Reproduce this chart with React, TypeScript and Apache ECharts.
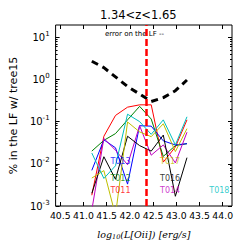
import React, { useEffect, useRef } from "react";
import * as echarts from "echarts";

const xBins = [41.18, 41.44, 41.69, 41.95, 42.21, 42.46, 42.72, 42.98, 43.23];
const errLF = [2.7, 1.9, 1.15, 0.68, 0.45, 0.3, 0.37, 0.54, 0.97];
const t011 = [0.0018, 0.045, 0.14, 0.22, 0.25, 0.25, 0.011, 0.025, 0.11];
const t012 = [0.02, 0.036, 0.052, 0.11, 0.23, 0.115, 0.015, 0.027, 0.03];
const t013 = [0.007, 0.037, 0.024, 0.0033, 0.08, 0.078, 0.035, 0.028, 0.03];
const t014 = [0.0008, 0.04, 0.021, 0.0095, 0.08, 0.016, 0.028, 0.0105, 0.056];
const t016 = [0.002, 0.0147, 0.0043, 0.045, 0.027, 0.02, 0.048, 0.0017, 0.014];
const t017 = [0.0046, 0.0069, 0.0006, 0.098, 0.057, 0.044, 0.089, 0.0195, 0.068];
const t018 = [0.018, 0.0045, 0.009, 0.15, 0.1, 0.05, 0.11, 0.028, 0.13];

const seriesNames = ["T011", "T012", "T013", "T014", "T016", "T017", "T018"];
const seriesColors = ["#ff0000", "#008000", "#0000ff", "#bf00bf", "#000000", "#bfbf00", "#00bfbf"];
const seriesValues = [t011, t012, t013, t014, t016, t017, t018];
const labelX = [41.58, 41.58, 41.58, 42.65, 42.65, 42.65, 43.71];
const labelY = [0.0023, 0.0046, 0.0115, 0.0023, 0.0046, 0.0115, 0.0023];

const zCut = 42.35;
const xTicks = [40.5, 41.0, 41.5, 42.0, 42.5, 43.0, 43.5, 44.0];
const yTicks = [0.001, 0.01, 0.1, 1, 10];
const yMinor: number[] = [];
for (let e = -3; e <= 1; e++) {
  for (let m = 2; m <= 9; m++) {
    const v = m * Math.pow(10, e);
    if (v < 19.5) yMinor.push(Number(v.toPrecision(3)));
  }
}

const xMin = 40.4;
const xMax = 44.2;
const yMin = 0.001;
const yMax = 19.5;

export default function App() {
  const ref = useRef<HTMLDivElement>(null);
  useEffect(() => {
    if (!ref.current) return;
    const chart = echarts.init(ref.current, null, { renderer: "svg" });
    const sans = "DejaVu Sans";
    const baseX = {
      type: "value",
      min: xMin,
      max: xMax,
      axisLine: { show: false },
      splitLine: { show: false },
      axisTick: { show: true, inside: true, length: 4, customValues: xTicks, lineStyle: { color: "#000" } },
    };
    const baseY = {
      type: "log",
      logBase: 10,
      min: yMin,
      max: yMax,
      axisLine: { show: false },
      splitLine: { show: false },
    };
    const option: any = {
      animation: false,
      backgroundColor: "#ffffff",
      title: {
        text: "1.34<z<1.65",
        left: 100,
        top: 9,
        padding: 0,
        textStyle: { fontFamily: sans, fontSize: 11.5, fontWeight: "normal", color: "#000" },
      },
      grid: {
        left: 48.5,
        right: 13,
        top: 25,
        bottom: 36.7,
        show: true,
        borderColor: "#000",
        borderWidth: 1,
        backgroundColor: "transparent",
      },
      xAxis: [
        {
          ...baseX,
          position: "bottom",
          axisLabel: {
            show: true,
            customValues: xTicks,
            formatter: (v: number) => v.toFixed(1),
            fontFamily: sans,
            fontSize: 9.3,
            color: "#000",
            margin: 5,
          },
          name: "{i|log}{s|10}{i|(L[Oii])} {i|[erg/s]}",
          nameLocation: "middle",
          nameGap: 22,
          nameTextStyle: {
            rich: {
              i: { fontFamily: "DejaVu Serif", fontStyle: "italic", fontSize: 9.5, color: "#000" },
              s: { fontFamily: "DejaVu Serif", fontStyle: "italic", fontSize: 6.5, color: "#000", padding: [5, 0, 0, 0] },
            },
          },
        },
        { ...baseX, position: "top", axisLabel: { show: false } },
      ],
      yAxis: [
        {
          ...baseY,
          position: "left",
          axisTick: { show: true, inside: true, length: 4, customValues: yTicks, lineStyle: { color: "#000" } },
          axisLabel: {
            show: true,
            customValues: yTicks,
            margin: 6,
            formatter: (v: number) => {
              const e = Math.round(Math.log10(v));
              return "{b|10}{s|" + String(e) + "}";
            },
            rich: {
              b: { fontFamily: sans, fontSize: 10, color: "#000" },
              s: { fontFamily: sans, fontSize: 7, color: "#000", padding: [0, 0, 7, 0] },
            },
          },
          name: "% in the LF w/ tree15",
          nameLocation: "middle",
          nameGap: 31,
          nameTextStyle: { fontFamily: sans, fontSize: 11, color: "#000" },
        },
        {
          ...baseY,
          position: "right",
          axisTick: { show: true, inside: true, length: 4, customValues: yTicks, lineStyle: { color: "#000" } },
          axisLabel: { show: false },
        },
        {
          ...baseY,
          position: "left",
          axisTick: { show: true, inside: true, length: 2, customValues: yMinor, lineStyle: { color: "#000" } },
          axisLabel: { show: false },
        },
        {
          ...baseY,
          position: "right",
          axisTick: { show: true, inside: true, length: 2, customValues: yMinor, lineStyle: { color: "#000" } },
          axisLabel: { show: false },
        },
      ],
      graphic: [
        {
          type: "text",
          left: 105,
          top: 30,
          style: { text: "error on the LF --", font: "7px 'DejaVu Sans'", fill: "#000" },
        },
      ],
      series: [
        ...seriesValues.map((vals, i) => ({
          type: "line",
          name: seriesNames[i],
          data: xBins.map((x, j) => [x, vals[j]]),
          showSymbol: false,
          symbol: "none",
          clip: true,
          lineStyle: { color: seriesColors[i], width: 1 },
          z: 3,
        })),
        {
          type: "line",
          name: "error on the LF",
          data: xBins.map((x, j) => [x, errLF[j]]),
          symbol: "none",
          clip: true,
          lineStyle: { color: "#000", width: 3, type: [7, 5] },
          z: 4,
        },
        {
          type: "line",
          name: "cut",
          data: [],
          symbol: "none",
          markLine: {
            silent: true,
            symbol: "none",
            label: { show: false },
            lineStyle: { color: "#ff0000", width: 2.5, type: [7, 3] },
            data: [{ xAxis: zCut }],
          },
          z: 5,
        },
        {
          type: "scatter",
          name: "labels",
          symbolSize: 0,
          data: seriesNames.map((n, i) => ({
            value: [labelX[i], labelY[i]],
            label: {
              show: true,
              formatter: n,
              position: "right",
              distance: 0,
              color: seriesColors[i],
              fontFamily: sans,
              fontSize: 8,
            },
          })),
          z: 6,
        },
      ],
    };
    chart.setOption(option);
    return () => chart.dispose();
  }, []);
  return (
    <div
      ref={ref}
      style={{ position: "fixed", left: 0, top: 0, width: 245, height: 245, background: "#fff" }}
    />
  );
}
